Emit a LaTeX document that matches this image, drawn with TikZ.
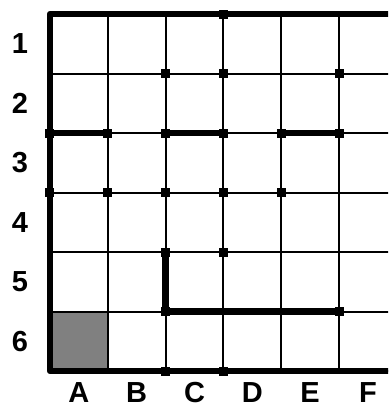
\documentclass[tikz,border=0pt]{standalone}
\usepackage{fontspec}
\setmainfont{Liberation Sans}
\begin{document}
\begin{tikzpicture}[x=57.8pt, y=-59.5pt,
    thinline/.style={line width=2pt},
    wall/.style={line width=6.5pt, line cap=rect},
    peg/.style={fill=black, minimum size=9pt, inner sep=0pt},
    lab/.style={font=\bfseries\fontsize{29}{29}\selectfont, inner sep=0pt}]
    \useasboundingbox (-0.865,-0.2353) rectangle (5.848,6.605);
    \clip (-0.865,-0.2353) rectangle (5.848,6.605);
    % case grisee
    \fill[gray] (0,5) rectangle (1,6);
    % quadrillage
    \foreach \i in {1,...,6} {
        \draw[thinline] (\i,0) -- (\i,6);
        \draw[thinline] (0,\i) -- (6,\i);
    }
    % bords
    \draw[wall, line join=round] (6,0) -- (0,0) -- (0,6) -- (6,6);
    % murs
    \draw[wall] (0,2) -- (1,2);
    \draw[wall] (2,2) -- (3,2);
    \draw[wall] (4,2) -- (5,2);
    \draw[wall] (2,4) -- (2,5) -- (5,5);
    % points
    \foreach \c/\r in {2/1, 3/0, 3/1, 5/1, 0/2, 1/2, 2/2, 3/2, 4/2, 5/2,
        0/3, 1/3, 2/3, 3/3, 4/3, 3/4, 2/4, 2/5, 5/5, 2/6, 3/6}
        \node[peg] (p\c\r) at (\c,\r) {};
    % etiquettes
    \foreach \r in {1,...,6}
        \node[lab] (row\r) at (-0.519,\r-0.5) {\r};
    \foreach \l [count=\c from 0] in {A,B,C,D,E,F}
        \node[lab] (col\l) at (\c+0.5,6.36) {\l};
\end{tikzpicture}
\end{document}
